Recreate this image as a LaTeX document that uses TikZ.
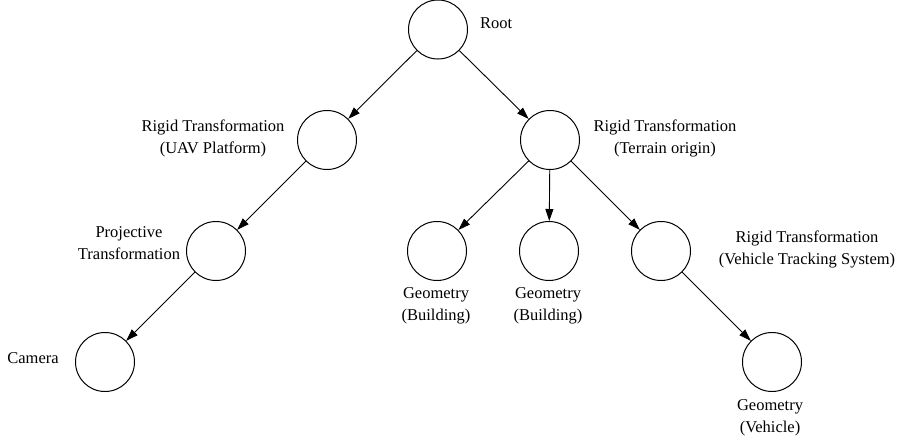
\documentclass[tikz,border=0pt]{standalone}
\usepackage{fontspec}
\setmainfont{Liberation Serif}
\usetikzlibrary{arrows.meta}
\begin{document}
\begin{tikzpicture}[x=1pt,y=-1pt,
  vtx/.style={draw,circle,minimum size=59pt,inner sep=0pt,line width=1pt},
  lbl/.style={align=center,inner sep=0pt,font=\fontsize{16.5}{22}\selectfont},
  edge/.style={line width=0.9pt,-{Triangle[length=12pt,width=8pt]}}]
\useasboundingbox (0,0) rectangle (902,440);
\node[vtx] (root) at (438,29.5) {};
\node[vtx] (uav) at (327,140) {};
\node[vtx] (ter) at (550,140) {};
\node[vtx] (proj) at (216,251) {};
\node[vtx] (cam) at (105,362) {};
\node[vtx] (b1) at (437,251) {};
\node[vtx] (b2) at (549,251) {};
\node[vtx] (vts) at (661,251) {};
\node[vtx] (veh) at (772,362) {};
\node[lbl,anchor=west] (lroot) at (480,23) {Root};
\node[lbl] (luav) at (213,138) {Rigid Transformation\\(UAV Platform)};
\node[lbl] (lter) at (665,138) {Rigid Transformation\\(Terrain origin)};
\node[lbl] (lproj) at (129,243) {Projective\\Transformation};
\node[lbl] (lcam) at (33,358) {Camera};
\node[lbl] (lb1) at (436,306) {Geometry\\(Building)};
\node[lbl] (lb2) at (548,306) {Geometry\\(Building)};
\node[lbl] (lvts) at (807,249) {Rigid Transformation\\(Vehicle Tracking System)};
\node[lbl] (lveh) at (770,418) {Geometry\\(Vehicle)};
\draw[edge] (root) -- (uav);
\draw[edge] (root) -- (ter);
\draw[edge] (uav) -- (proj);
\draw[edge] (proj) -- (cam);
\draw[edge] (ter) -- (b1);
\draw[edge] (ter) -- (b2);
\draw[edge] (ter) -- (vts);
\draw[edge] (vts) -- (veh);
\end{tikzpicture}
\end{document}
